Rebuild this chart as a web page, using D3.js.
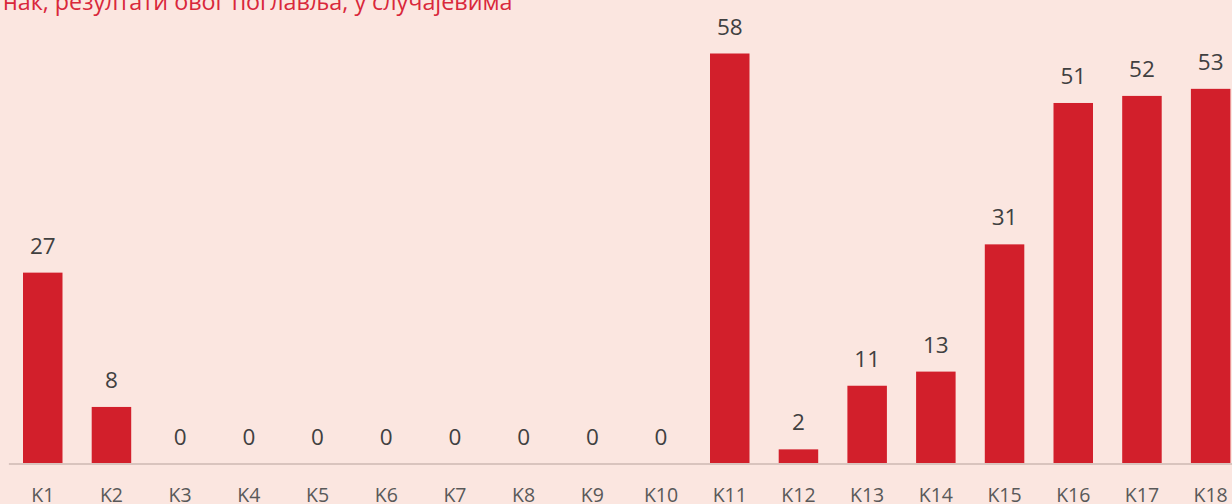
<!DOCTYPE html>
<html>
<head>
<meta charset="utf-8">
<script src="https://cdn.jsdelivr.net/npm/d3@7"></script>
<style>
  body { margin: 0; background: #fbe6e0; }
  svg { display: block; font-family: "Open Sans", sans-serif; }
</style>
</head>
<body>
<div id="chart"></div>
<script>
var svgWidth = 1232;
var svgHeight = 504;

// data
var categories = ["K1", "K2", "K3", "K4", "K5", "K6", "K7", "K8", "K9",
  "K10", "K11", "K12", "K13", "K14", "K15", "K16", "K17", "K18"];
var values = [27, 8, 0, 0, 0, 0, 0, 0, 0, 0, 58, 2, 11, 13, 31, 51, 52, 53];
var titleText = "нак, резултати овог поглавља, у случајевима";

var baseY = 463.5;

var svg = d3.select("#chart")
  .append("svg")
  .attr("width", svgWidth)
  .attr("height", svgHeight);

svg.append("rect")
  .attr("width", svgWidth)
  .attr("height", svgHeight)
  .attr("fill", "#fbe6e0");

// the plot runs a little past the right edge, like the original crop
var xScale = d3.scaleBand()
  .domain(categories)
  .range([8.4, 8.4 + 18 * 68.7])
  .paddingInner(0.425)
  .paddingOuter(0.2125);

var yScale = d3.scaleLinear()
  .domain([0, 58])
  .range([baseY, 53.5]);

// title, cut off at the top of the picture
svg.append("text")
  .attr("x", 3)
  .attr("y", 9.5)
  .attr("fill", "#d9283b")
  .attr("font-size", "23.3px")
  .text(titleText);

// bars
svg.selectAll(".bar")
  .data(values)
  .enter()
  .append("rect")
  .attr("class", "bar")
  .attr("x", (d, i) => xScale(categories[i]))
  .attr("y", d => yScale(d))
  .attr("width", xScale.bandwidth())
  .attr("height", d => baseY - yScale(d))
  .attr("fill", "#d21f2b");

// value labels
svg.selectAll(".valueText")
  .data(values)
  .enter()
  .append("text")
  .attr("class", "valueText")
  .attr("x", (d, i) => xScale(categories[i]) + xScale.bandwidth() / 2)
  .attr("y", d => yScale(d) - 19)
  .attr("text-anchor", "middle")
  .attr("font-size", "22.5px")
  .attr("fill", "#404040")
  .text(d => d);

// x axis
var bottomAxis = d3.axisBottom(xScale).tickSize(0).tickSizeOuter(0);

var xAxis = svg.append("g")
  .attr("transform", `translate(0, ${baseY})`)
  .call(bottomAxis);

xAxis.select(".domain")
  .attr("stroke", "#d9c4be")
  .attr("stroke-width", 2);

xAxis.selectAll("text")
  .attr("y", 38.5)
  .attr("dy", 0)
  .attr("font-family", "Open Sans, sans-serif")
  .attr("font-size", "19.5px")
  .attr("fill", "#595959");
</script>
</body>
</html>
